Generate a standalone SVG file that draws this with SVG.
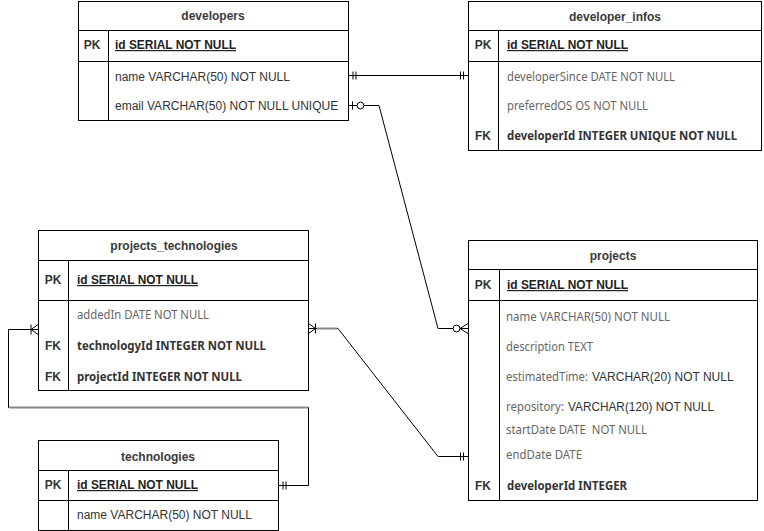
<svg xmlns="http://www.w3.org/2000/svg" width="764" height="531" viewBox="0 0 764 531">
<style>
.tb{fill:#fff;stroke:#000;stroke-width:1}
.ln{stroke:#000;stroke-width:1;fill:none}
.hdr{font-family:"Liberation Sans",Arial,sans-serif;font-size:12px;font-weight:bold;fill:#3a3a3a;text-anchor:middle}
.key{font-family:"Liberation Sans",Arial,sans-serif;font-size:12px;font-weight:bold;fill:#333;text-anchor:middle}
.pk{font-family:"Liberation Sans",Arial,sans-serif;font-size:12px;font-weight:bold;fill:#222;text-decoration:underline}
.a{font-family:"Liberation Sans",Arial,sans-serif;font-size:12px;fill:#333}
.s{font-family:"Noto Sans","Open Sans",sans-serif;font-size:12px;fill:#666;white-space:pre}
.sb{font-family:"Noto Sans","Open Sans",sans-serif;font-size:12px;font-weight:bold;fill:#333}
.c{stroke:#000;stroke-width:1;fill:none}
.g{stroke:#888;stroke-width:2;fill:none}
</style>
<defs>
<marker id="mOne" markerUnits="userSpaceOnUse" viewBox="-20 -10 22 20" refX="0" refY="0" markerWidth="22" markerHeight="20" orient="auto-start-reverse" overflow="visible">
<path d="M-4.5,-4V4M-7.5,-4V4" stroke="#000" stroke-width="1" fill="none"/>
</marker>
<marker id="zOne" markerUnits="userSpaceOnUse" viewBox="-20 -10 22 20" refX="0" refY="0" markerWidth="22" markerHeight="20" orient="auto-start-reverse" overflow="visible">
<path d="M-4,-4V4" stroke="#000" stroke-width="1" fill="none"/>
<circle cx="-12" cy="0" r="3.4" fill="#fff" stroke="#000" stroke-width="1"/>
</marker>
<marker id="zMany" markerUnits="userSpaceOnUse" viewBox="-20 -10 22 20" refX="0" refY="0" markerWidth="22" markerHeight="20" orient="auto-start-reverse" overflow="visible">
<path d="M0,-5L-8,0L0,5" stroke="#000" stroke-width="1" fill="none"/>
<circle cx="-11.5" cy="0" r="3.4" fill="#fff" stroke="#000" stroke-width="1"/>
</marker>
<marker id="oMany" markerUnits="userSpaceOnUse" viewBox="-20 -10 22 20" refX="0" refY="0" markerWidth="22" markerHeight="20" orient="auto-start-reverse" overflow="visible">
<path d="M0,-5L-7,0L0,5M-7,-5V5" stroke="#000" stroke-width="1" fill="none"/>
</marker>
</defs>
<rect width="764" height="531" fill="#fff"/>

<g id="connectors">
<path class="c" d="M348.5,75.5H468" marker-start="url(#mOne)" marker-end="url(#mOne)"/>
<path class="c" d="M348.5,105.5H379L438,328.5H468" marker-start="url(#zOne)" marker-end="url(#zMany)"/>
<path class="c" d="M308.5,328.5H338L438,456.5H468" marker-start="url(#oMany)" marker-end="url(#mOne)"/>
<path class="c" d="M278.5,485.5H308.5V407.5H8.5V329.5H38" marker-start="url(#mOne)" marker-end="url(#oMany)"/>
<path class="g" d="M9,407.5H308"/>
<path class="g" d="M317,328.5H337"/>
</g>

<g id="developers">
<rect class="tb" x="78.5" y="1.5" width="270" height="119"/>
<path class="ln" d="M78.5,30.5H348.5M78.5,61.5H348.5M108.5,30.5V120.5"/>
<text class="hdr" x="213" y="20">developers</text>
<text class="key" x="92" y="49">PK</text>
<text class="pk" x="115" y="49" textLength="121" lengthAdjust="spacingAndGlyphs">id SERIAL NOT NULL</text>
<text class="a" x="115" y="81">name VARCHAR(50) NOT NULL</text>
<text class="a" x="115" y="110">email VARCHAR(50) NOT NULL UNIQUE</text>
</g>

<g id="developer_infos">
<rect class="tb" x="468.5" y="1.5" width="293" height="149"/>
<path class="ln" d="M468.5,30.5H761.5M468.5,61.5H761.5M498.5,30.5V150.5"/>
<text class="hdr" x="615" y="21">developer_infos</text>
<text class="key" x="483" y="49">PK</text>
<text class="pk" x="507" y="49" textLength="121" lengthAdjust="spacingAndGlyphs">id SERIAL NOT NULL</text>
<text class="s" x="507" y="81" textLength="168" lengthAdjust="spacingAndGlyphs">developerSince DATE NOT NULL</text>
<text class="s" x="507" y="110" textLength="141" lengthAdjust="spacingAndGlyphs">preferredOS OS NOT NULL</text>
<text class="key" x="483" y="140">FK</text>
<text class="sb" x="507" y="140" textLength="230" lengthAdjust="spacingAndGlyphs">developerId INTEGER UNIQUE NOT NULL</text>
</g>

<g id="projects">
<rect class="tb" x="468.5" y="240.5" width="289" height="260"/>
<path class="ln" d="M468.5,269.5H757.5M468.5,300.5H757.5M499.5,269.5V500.5"/>
<text class="hdr" x="613" y="260">projects</text>
<text class="key" x="483" y="289">PK</text>
<text class="pk" x="507" y="289" textLength="121" lengthAdjust="spacingAndGlyphs">id SERIAL NOT NULL</text>
<text class="s" x="506" y="321" textLength="164" lengthAdjust="spacingAndGlyphs">name VARCHAR(50) NOT NULL</text>
<text class="s" x="506" y="351" textLength="87" lengthAdjust="spacingAndGlyphs">description TEXT</text>
<text x="506" y="381"><tspan class="s" textLength="82" lengthAdjust="spacingAndGlyphs">estimatedTime:</tspan><tspan class="a" x="592">VARCHAR(20) NOT NULL</tspan></text>
<text x="506" y="411"><tspan class="s" textLength="58" lengthAdjust="spacingAndGlyphs">repository:</tspan><tspan class="a" x="568" textLength="146" lengthAdjust="spacingAndGlyphs">VARCHAR(120) NOT NULL</tspan></text>
<text class="s" x="506" y="434" textLength="141" lengthAdjust="spacingAndGlyphs">startDate DATE  NOT NULL</text>
<text class="s" x="506" y="459" textLength="76" lengthAdjust="spacingAndGlyphs">endDate DATE</text>
<text class="key" x="483" y="490">FK</text>
<text class="sb" x="507" y="490" textLength="120" lengthAdjust="spacingAndGlyphs">developerId INTEGER</text>
</g>

<g id="projects_technologies">
<rect class="tb" x="38.5" y="230.5" width="270" height="160"/>
<path class="ln" d="M38.5,260.5H308.5M38.5,300.5H308.5M68.5,260.5V390.5"/>
<text class="hdr" x="174" y="250">projects_technologies</text>
<text class="key" x="53" y="284">PK</text>
<text class="pk" x="77" y="284" textLength="121" lengthAdjust="spacingAndGlyphs">id SERIAL NOT NULL</text>
<text class="s" x="77" y="319" textLength="132" lengthAdjust="spacingAndGlyphs">addedIn DATE NOT NULL</text>
<text class="key" x="53" y="350">FK</text>
<text class="sb" x="77" y="350" textLength="189" lengthAdjust="spacingAndGlyphs">technologyId INTEGER NOT NULL</text>
<text class="key" x="53" y="381">FK</text>
<text class="sb" x="77" y="381" textLength="165" lengthAdjust="spacingAndGlyphs">projectId INTEGER NOT NULL</text>
</g>

<g id="technologies">
<rect class="tb" x="38.5" y="440.5" width="240" height="90"/>
<path class="ln" d="M38.5,470.5H278.5M38.5,500.5H278.5M68.5,470.5V530.5"/>
<text class="hdr" x="158" y="461">technologies</text>
<text class="key" x="53" y="489">PK</text>
<text class="pk" x="77" y="489" textLength="121" lengthAdjust="spacingAndGlyphs">id SERIAL NOT NULL</text>
<text class="a" x="77" y="519">name VARCHAR(50) NOT NULL</text>
</g>
</svg>
